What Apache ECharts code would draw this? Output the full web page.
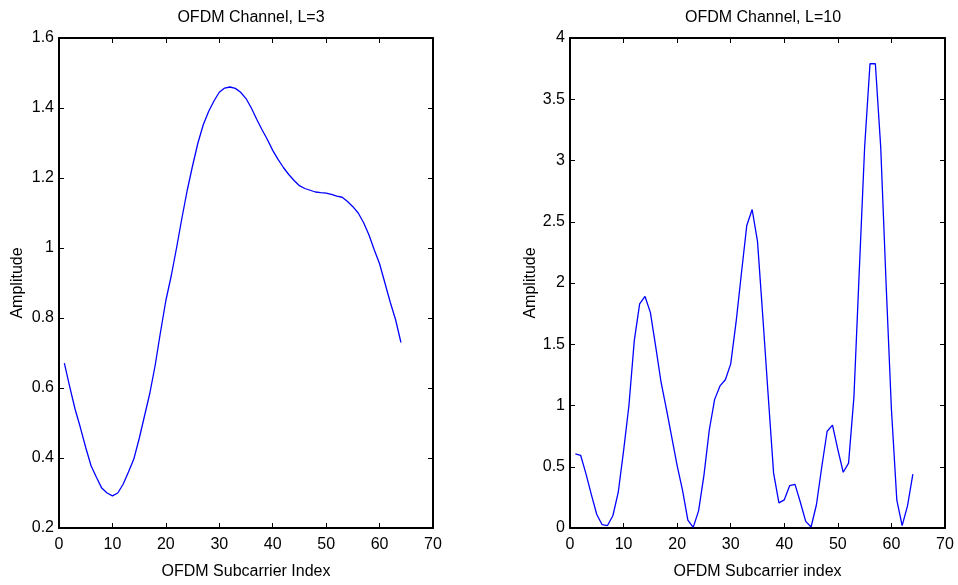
<!DOCTYPE html>
<html>
<head>
<meta charset="utf-8">
<script src="https://cdn.jsdelivr.net/npm/echarts@6/dist/echarts.min.js"></script>
<style>
  html, body { margin: 0; padding: 0; background: #fff; }
  #chart { width: 958px; height: 585px; }
</style>
</head>
<body>
<div id="chart"></div>
<script>
// Channel frequency responses (amplitude per subcarrier)
const subcarriers = Array.from({ length: 64 }, (_, k) => k + 1);

const ampL3 = [
  0.671, 0.604, 0.540, 0.487, 0.430, 0.378, 0.345, 0.314, 0.300, 0.292,
  0.300, 0.325, 0.360, 0.397, 0.455, 0.520, 0.585, 0.665, 0.760, 0.850,
  0.920, 1.000, 1.085, 1.165, 1.235, 1.300, 1.352, 1.390, 1.420, 1.445,
  1.457, 1.460, 1.456, 1.445, 1.427, 1.400, 1.368, 1.338, 1.310, 1.279,
  1.253, 1.230, 1.210, 1.193, 1.178, 1.170, 1.165, 1.160, 1.158, 1.157,
  1.153, 1.148, 1.145, 1.133, 1.118, 1.100, 1.073, 1.038, 0.995, 0.955,
  0.900, 0.845, 0.795, 0.730
];

const ampL10 = [
  0.606, 0.592, 0.440, 0.270, 0.110, 0.027, 0.020, 0.100, 0.290, 0.630,
  1.000, 1.530, 1.830, 1.890, 1.760, 1.480, 1.190, 0.970, 0.740, 0.510,
  0.310, 0.065, 0.005, 0.140, 0.430, 0.800, 1.050, 1.160, 1.210, 1.340,
  1.680, 2.080, 2.470, 2.600, 2.340, 1.720, 1.080, 0.450, 0.205, 0.230,
  0.345, 0.356, 0.210, 0.054, 0.008, 0.190, 0.500, 0.790, 0.840, 0.640,
  0.455, 0.530, 1.070, 2.100, 3.110, 3.790, 3.790, 3.110, 2.000, 0.970,
  0.230, 0.020, 0.180, 0.440
];

const titles = ['OFDM Channel, L=3', 'OFDM Channel, L=10'];
const xNames = ['OFDM Subcarrier Index', 'OFDM Subcarrier index'];
const yName = 'Amplitude';

const FONT = 'Liberation Sans, Arial, sans-serif';
const BLACK = '#000';

const fmt = v => String(+v.toFixed(2));

function pairs(ys) { return ys.map((v, k) => [subcarriers[k], v]); }

function xAxes(gridIndex, name) {
  const common = {
    gridIndex, type: 'value', min: 0, max: 70, interval: 10,
    splitLine: { show: false },
    axisLine: { show: true, onZero: false, lineStyle: { color: BLACK, width: 2 } },
    axisTick: { show: true, inside: true, length: 5, lineStyle: { color: BLACK, width: 1 } }
  };
  return [
    Object.assign({}, common, {
      position: 'bottom',
      name, nameLocation: 'middle', nameGap: 36,
      nameTextStyle: { color: BLACK, fontSize: 16, fontFamily: FONT },
      axisLabel: { color: BLACK, fontSize: 16, fontFamily: FONT, margin: 9, formatter: fmt }
    }),
    Object.assign({}, common, { position: 'top', axisLabel: { show: false } })
  ];
}

function yAxes(gridIndex, min, max, interval, nameGap) {
  const common = {
    gridIndex, type: 'value', min, max, interval,
    splitLine: { show: false },
    axisLine: { show: true, onZero: false, lineStyle: { color: BLACK, width: 2 } },
    axisTick: { show: true, inside: true, length: 5, lineStyle: { color: BLACK, width: 1 } }
  };
  return [
    Object.assign({}, common, {
      position: 'left',
      name: yName, nameLocation: 'middle', nameGap, nameRotate: 90,
      nameTextStyle: { color: BLACK, fontSize: 16, fontFamily: FONT },
      axisLabel: { color: BLACK, fontSize: 16, fontFamily: FONT, margin: 5, formatter: fmt }
    }),
    Object.assign({}, common, { position: 'right', axisLabel: { show: false } })
  ];
}

const chart = echarts.init(document.getElementById('chart'), null, { renderer: 'canvas' });

chart.setOption({
  animation: false,
  backgroundColor: '#fff',
  title: [
    { text: titles[0], left: 246, top: 5, textAlign: 'center',
      textStyle: { color: BLACK, fontSize: 16, fontWeight: 'normal', fontFamily: FONT } },
    { text: titles[1], left: 758, top: 5, textAlign: 'center',
      textStyle: { color: BLACK, fontSize: 16, fontWeight: 'normal', fontFamily: FONT } }
  ],
  grid: [
    { left: 59, top: 38, width: 374, height: 490 },
    { left: 570, top: 38, width: 375, height: 490 }
  ],
  xAxis: [...xAxes(0, xNames[0]), ...xAxes(1, xNames[1])],
  yAxis: [...yAxes(0, 0.2, 1.6, 0.2, 33), ...yAxes(1, 0, 4, 0.5, 31)],
  series: [
    { type: 'line', xAxisIndex: 0, yAxisIndex: 0, data: pairs(ampL3),
      showSymbol: false, lineStyle: { color: '#0000ff', width: 1.3 } },
    { type: 'line', xAxisIndex: 2, yAxisIndex: 2, data: pairs(ampL10),
      showSymbol: false, lineStyle: { color: '#0000ff', width: 1.3 } }
  ]
});
</script>
</body>
</html>
